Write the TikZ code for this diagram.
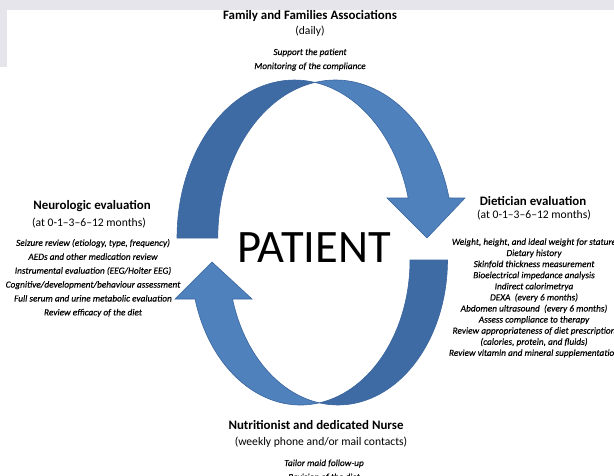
\documentclass[tikz,border=0pt]{standalone}
\usepackage{fontspec}
\setmainfont{Carlito}
\newfontfamily\itemfont{Carlito}[FakeBold=0.35]
\definecolor{bandlight}{HTML}{4F81BD}
\definecolor{bandshade}{HTML}{3F6BA5}
\definecolor{bandline}{HTML}{3A659E}
\definecolor{bggrey}{HTML}{E6E5EB}
\begin{document}
\begin{tikzpicture}[x=1pt,y=-1pt,
  band/.style={draw=bandline,line width=0.6pt,line join=miter},
  headtxt/.style={font=\fontsize{12.9}{15}\selectfont\bfseries,anchor=base,inner sep=0pt},
  subtxt/.style={font=\fontsize{11.6}{14}\selectfont,anchor=base,inner sep=0pt},
  itemtxt/.style={font=\itemfont\fontsize{9.3}{11}\selectfont\itshape\addfontfeature{FakeBold=0.35},anchor=base,inner sep=0pt},
  bigtxt/.style={font=\fontsize{46.5}{50}\selectfont,anchor=base,inner sep=0pt}]
\useasboundingbox (0,0) rectangle (614,475);
\clip (0,0) rectangle (614,475);
% background bands
\fill[bggrey] (0,0) rectangle (614,10);
\fill[bggrey] (0,0) rectangle (7,67);
% top arrow: rear (left) part
\fill[bandshade,band] (177,238)
  arc[start angle=180,end angle=280,x radius=117.5,y radius=158]
  arc[start angle=260,end angle=180,x radius=117.5,y radius=158] -- cycle;
% top arrow: front (right) part with head
\fill[bandlight,band] (315,82.4)
  arc[start angle=260,end angle=345.33,x radius=117.5,y radius=158]
  -- (465,198) -- (427,238) -- (387,198) -- (408.2,198)
  arc[start angle=345.33,end angle=280,x radius=117.5,y radius=158] -- cycle;
% bottom arrow: rear (right) part
\fill[bandshade,band] (447.5,260)
  arc[start angle=0,end angle=99.86,x radius=109.5,y radius=145]
  arc[start angle=80.14,end angle=0,x radius=109.5,y radius=145] -- cycle;
% bottom arrow: front (left) part with head
\fill[bandlight,band] (319.25,402.86)
  arc[start angle=80.14,end angle=164.4,x radius=109.5,y radius=145]
  -- (175,299) -- (212,262) -- (252,299) -- (232.54,299)
  arc[start angle=164.4,end angle=99.86,x radius=109.5,y radius=145] -- cycle;
% centre
\node[bigtxt] (patient) at (314,262) {PATIENT};
% top block
\node[headtxt] (famT) at (310,19.5) {Family and Families Associations};
\node[subtxt] (famS) at (310,34) {(daily)};
\node[itemtxt] (fam1) at (310,55) {Support the patient};
\node[itemtxt] (fam2) at (310,69) {Monitoring of the compliance};
% left block
\node[headtxt] (neuT) at (92,209.5) {Neurologic evaluation};
\node[subtxt] (neuS) at (89,226) {(at 0-1--3--6--12 months)};
\foreach \t [count=\i] in {
  {Seizure review (etiology, type, frequency)},
  {AEDs and other medication review},
  {Instrumental evaluation (EEG/Holter EEG)},
  {Cognitive/development/behaviour assessment},
  {Full serum and urine metabolic evaluation},
  {Review efficacy of the diet}}
  \node[itemtxt] (neu\i) at (93,{232+13.9*\i}) {\t};
% right block
\node[headtxt] (dieT) at (533,205.5) {Dietician evaluation};
\node[subtxt] (dieS) at (534,218) {(at 0-1--3--6--12 months)};
\foreach \t [count=\i] in {
  {Weight, height, and ideal weight for stature},
  {Dietary history},
  {Skinfold thickness measurement},
  {Bioelectrical impedance analysis},
  {Indirect calorimetrya},
  {DEXA\ \ (every 6 months)},
  {Abdomen ultrasound\ \ (every 6 months)},
  {Assess compliance to therapy},
  {Review appropriateness of diet prescription},
  {(calories, protein, and fluids)},
  {Review vitamin and mineral supplementation}}
  \node[itemtxt] (die\i) at (534,{233.8+11.1*\i}) {\t};
% bottom block
\node[headtxt] (nurT) at (316,429.5) {Nutritionist and dedicated Nurse};
\node[subtxt] (nurS) at (321,445) {(weekly phone and/or mail contacts)};
\node[itemtxt] (nur1) at (324,466) {Tailor maid follow-up};
\node[itemtxt] (nur2) at (324,480) {Revision of the diet};
\end{tikzpicture}
\end{document}
